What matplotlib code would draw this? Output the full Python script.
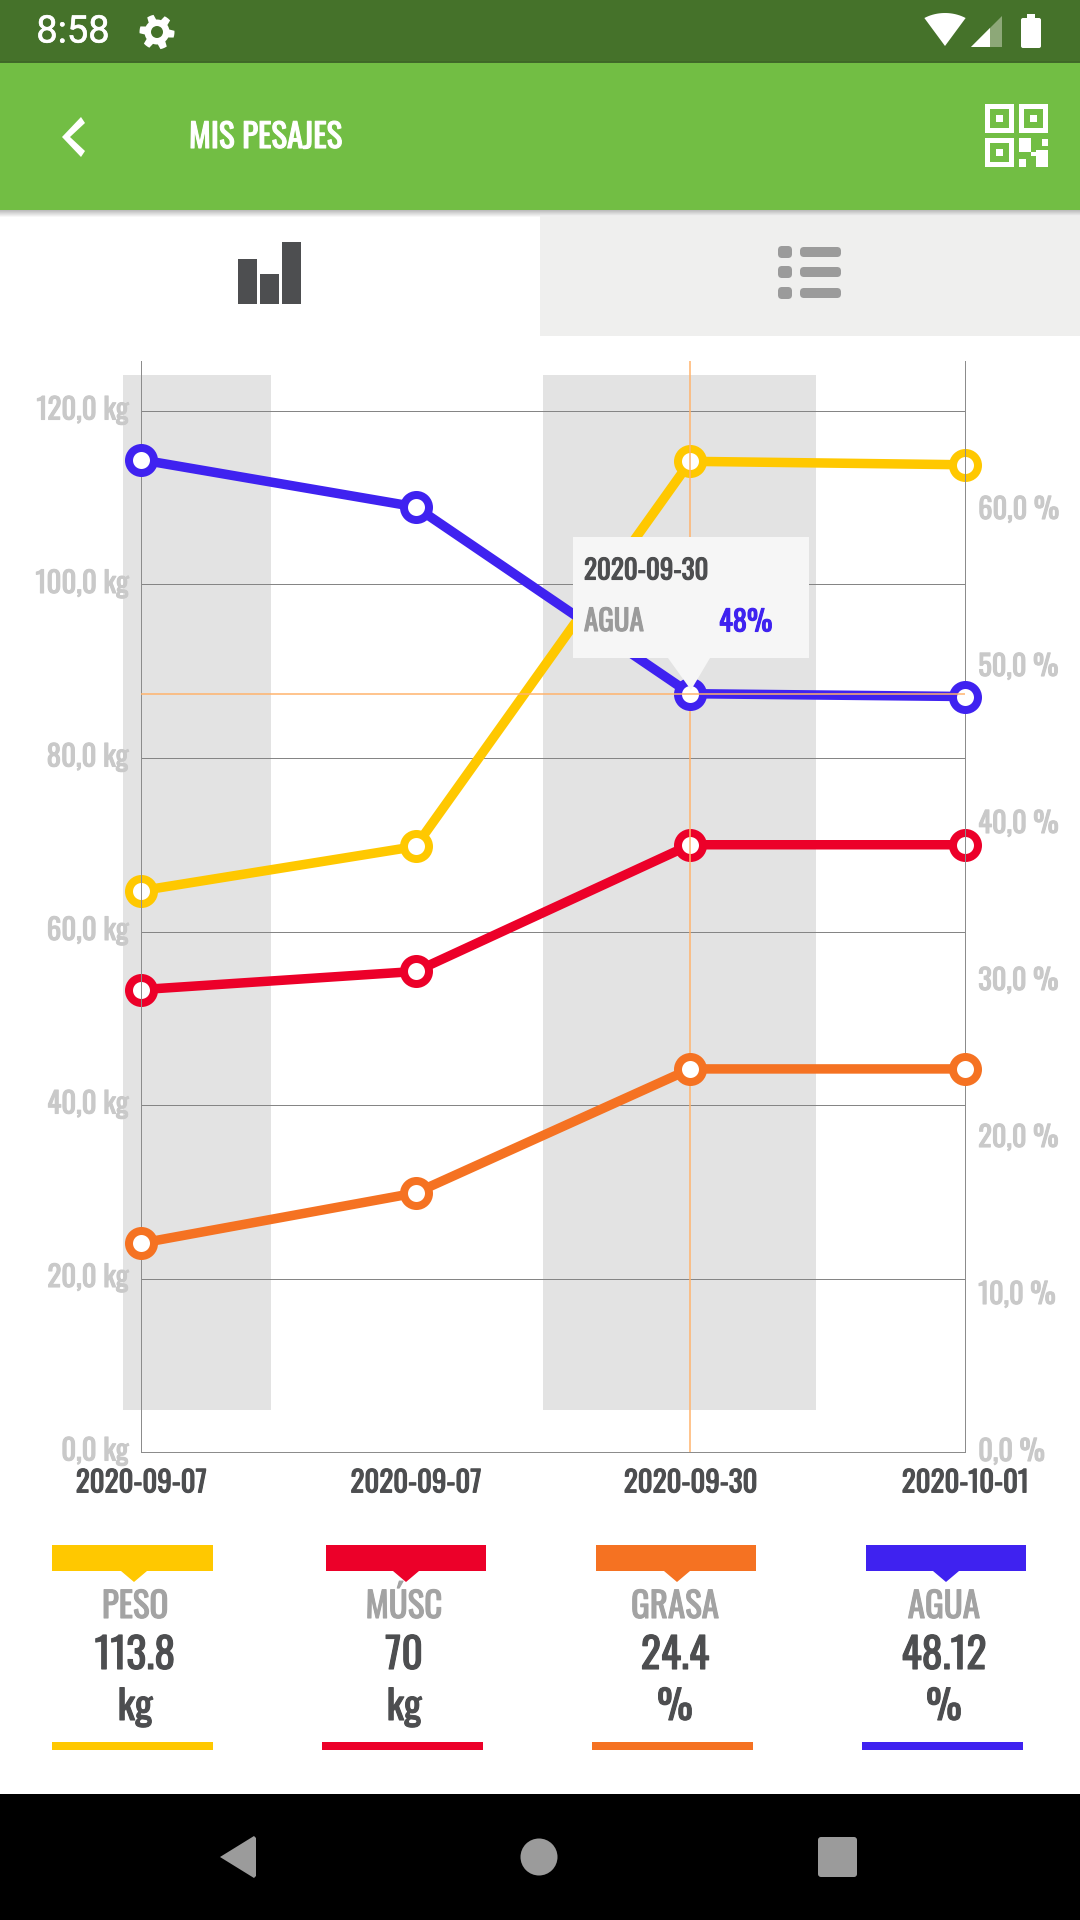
import numpy as np
import matplotlib
matplotlib.use("Agg")
import matplotlib.pyplot as plt
from matplotlib.patches import Rectangle, Polygon, Circle, FancyBboxPatch
from matplotlib.transforms import ScaledTranslation
import matplotlib.patheffects as pe

plt.rcParams['font.family'] = ['Oswald', 'Roboto', 'DejaVu Sans']

dates = ['2020-09-07', '2020-09-07', '2020-09-30', '2020-10-01']
peso = [64.7, 69.8, 114.2, 113.8]
musculo = [53.3, 55.4, 70.0, 70.0]
grasa = [13.3, 16.5, 24.4, 24.4]
agua = [63.2, 60.2, 48.3, 48.12]
kg_ticks = [0, 20, 40, 60, 80, 100, 120]
pct_ticks = [0, 10, 20, 30, 40, 50, 60]
legend_names = ['PESO', 'MÚSC', 'GRASA', 'AGUA']
legend_values = ['113.8', '70', '24.4', '48.12']
legend_units = ['kg', 'kg', '%', '%']

YELLOW, RED, ORANGE, BLUE = '#FFC800', '#EC0029', '#F57222', '#3F22F0'
DARK, GRAY, LGRAY = '#4D4E50', '#A3A3A3', '#C9C9C9'
px = 0.72  # points per pixel at dpi 100
W, H = 1080, 1920
fig = plt.figure(figsize=(W / 100, H / 100), dpi=100, facecolor='white')

def heavy(color, width=0.8):
    return [pe.withStroke(linewidth=width, foreground=color)]

def box(l, t, r, b):
    return [l / W, 1 - b / H, (r - l) / W, (b - t) / H]

# ---------------- chart ----------------
ax = fig.add_axes(box(141, 361, 965, 1452), zorder=2)
ax.set_facecolor('none')
ax.set_xlim(0, 3)
ax.set_ylim(0, 1091 / 8.675)
ax2 = ax.twinx()
ax2.set_zorder(3)
ax2.set_facecolor('none')
ax2.set_ylim(0, 1091 / 15.7)

# alternating date bands behind the grid
for start, end in [(-0.066, 0.473), (1.465, 2.457)]:
    ax.bar(start, 119.4, width=end - start, bottom=4.8, align='edge',
           color='#E3E3E3', clip_on=False, zorder=0)

ax.set_yticks(kg_ticks, [f'{v:.1f} kg'.replace('.', ',') for v in kg_ticks])
ax2.set_yticks(pct_ticks, [f'{v:.1f} %'.replace('.', ',') for v in pct_ticks])
ax.set_xticks(range(4), dates)
ax.tick_params(axis='y', length=0, pad=9, labelsize=29 * px, labelcolor=LGRAY)
ax2.tick_params(axis='y', length=0, pad=9.5, labelsize=28.5 * px, labelcolor=LGRAY)
ax.tick_params(axis='x', length=0, pad=12.5, labelsize=29 * px, labelcolor=DARK)
lift = ScaledTranslation(0, 3 / 100, fig.dpi_scale_trans)
for lab in ax.get_yticklabels() + ax2.get_yticklabels():
    lab.set_transform(lab.get_transform() + lift)
    lab.set_path_effects(heavy(LGRAY))
for lab in ax.get_xticklabels():
    lab.set_path_effects(heavy(DARK))
ax.grid(axis='y', color='#858585', lw=1 * px, zorder=1)
ax.set_axisbelow(True)
for a in (ax, ax2):
    a.spines['top'].set_visible(False)
    for s in ('left', 'right', 'bottom'):
        a.spines[s].set_color('#8C8C8C')
        a.spines[s].set_linewidth(1 * px)

xs = np.arange(4)
style = dict(lw=9.5 * px, marker='o', ms=25 * px, mew=8 * px, mfc='white',
             clip_on=False, solid_joinstyle='round')
ax.plot(xs, peso, color=YELLOW, zorder=3, **style)
ax.plot(xs, musculo, color=RED, zorder=3, **style)
ax2.plot(xs, grasa, color=ORANGE, zorder=3, **style)
ax2.plot(xs, agua, color=BLUE, zorder=3, **style)
# crosshair of the selected point
ax2.axvline(xs[2], color='#FFB36B', lw=1.5 * px, zorder=2.5)
ax2.axhline(agua[2], color='#FFB36B', lw=1.5 * px, zorder=3.5)

# ---------------- screen furniture, in pixels ----------------
ov = fig.add_axes([0, 0, 1, 1], zorder=10)
ov.set_xlim(0, W)
ov.set_ylim(H, 0)
ov.axis('off')
ov.set_facecolor('none')

def rect(l, t, r, b, c, **k):
    ov.add_patch(Rectangle((l, t), r - l, b - t, fc=c, ec='none', **k))

def rrect(l, t, r, b, c, rad=3):
    ov.add_patch(FancyBboxPatch((l + rad, t + rad), r - l - 2 * rad, b - t - 2 * rad,
                                boxstyle=f'round,pad={rad}', fc=c, ec='none'))

def poly(pts, c):
    ov.add_patch(Polygon(pts, closed=True, fc=c, ec='none'))

def txt(x, y, s, size, c, ha='center', va='center', stroke=0.8, **k):
    ov.text(x, y, s, fontsize=size * px, color=c, ha=ha, va=va,
            path_effects=heavy(c, stroke), **k)

# status bar and app bar
rect(0, 0, W, 63, '#45722A')
for i, c in enumerate(['#3E6826', '#41692A']):
    rect(0, 61 + i, W, 62 + i, c)
rect(0, 63, W, 210, '#72BE44')
rect(540, 210, W, 336, '#EFEFEE')
for i in range(7):
    g = 0.74 + 0.038 * i
    rect(0, 210 + i, 540, 211 + i, (g, g, g))
    g2 = min(g, 0.937)
    rect(540, 210 + i, W, 211 + i, (g2, g2, g2))

txt(73, 32, '8:58', 38, 'white', stroke=0.4, family=['Roboto'])
# gear
angles = np.linspace(0, 2 * np.pi, 48, endpoint=False)
radii = np.where((np.arange(48) % 8) < 4, 17.5, 12.5)
poly(np.c_[157 + radii * np.sin(angles + 0.2), 32 + radii * np.cos(angles + 0.2)], 'white')
ov.add_patch(Circle((157, 32), 6, fc='#45722A', ec='none'))
# wifi, signal, battery
th = np.linspace(np.radians(-32), np.radians(32), 20)
poly(np.r_[[[945, 46]], np.c_[945 + 33 * np.sin(th) * 1.18, 46 - 33 * np.cos(th)][::1]], 'white')
poly([[971, 47], [1002, 16], [1002, 47]], '#8DA878')
poly([[971, 47], [990, 28], [990, 47]], 'white')
rrect(1021, 18, 1041, 48, 'white', 2)
rect(1027, 14, 1035, 19, 'white')

# back chevron and title
poly([[81, 117], [85, 123], [70, 137], [85, 151], [81, 157], [62, 137]], 'white')
txt(189, 138, 'MIS PESAJES', 33, 'white', ha='left')

# QR icon
for (l, t) in [(985, 104), (1019, 104), (985, 138)]:
    rect(l, t, l + 29, t + 29, 'white')
    rect(l + 5, t + 5, l + 24, t + 24, '#72BE44')
    rect(l + 11, t + 11, l + 18, t + 18, 'white')
for l, t, r, b in [(1019, 138, 1031, 152), (1042, 139, 1048, 146), (1019, 159, 1026, 167),
                   (1036, 150, 1048, 167), (1031, 152, 1036, 156)]:
    rect(l, t, r, b, 'white')

# tab icons
rect(238, 259, 257, 304, DARK)
rect(260, 274, 279, 304, DARK)
rect(282, 242, 301, 304, DARK)
for yc in (252, 272, 293):
    rrect(778, yc - 6, 792, yc + 6, '#9B9B9B', 4)
    rrect(800, yc - 5, 841, yc + 5, '#9B9B9B', 4)

# tooltip
rect(573, 537, 809, 658, '#F6F6F6')
poly([[668, 658], [710, 658], [691, 690]], '#F6F6F6')
txt(584, 571, '2020-09-30', 27, DARK, ha='left')
txt(584, 622, 'AGUA', 29, '#9B9B9B', ha='left')
txt(719, 622, '48%', 28.5, BLUE, ha='left')

# legend
top_bars = [(52, 213, 134), (326, 486, 406), (596, 756, 677), (866, 1026, 946)]
bot_bars = [(52, 213), (322, 483), (592, 753), (862, 1023)]
centers = [135, 404, 675, 944]
colors = [YELLOW, RED, ORANGE, BLUE]
for i in range(4):
    l, r, tip = top_bars[i]
    rect(l, 1545, r, 1571, colors[i])
    poly([[tip - 13, 1571], [tip + 13, 1571], [tip, 1582]], colors[i])
    rect(bot_bars[i][0], 1742, bot_bars[i][1], 1750, colors[i])
    txt(centers[i], 1618, legend_names[i], 35, GRAY, va='baseline')
    txt(centers[i], 1669, legend_values[i], 42, DARK, va='baseline')
    txt(centers[i], 1720, legend_units[i], 40, DARK, va='baseline')

# navigation bar
rect(0, 1794, W, H, 'black')
poly([[220, 1857], [254, 1836], [256, 1838], [256, 1876], [254, 1878]], '#9B9B9B')
ov.add_patch(Circle((539, 1857), 18.5, fc='#9B9B9B', ec='none'))
rrect(818, 1837, 857, 1877, '#9B9B9B', 3)

fig.savefig('out.png', dpi=100)
